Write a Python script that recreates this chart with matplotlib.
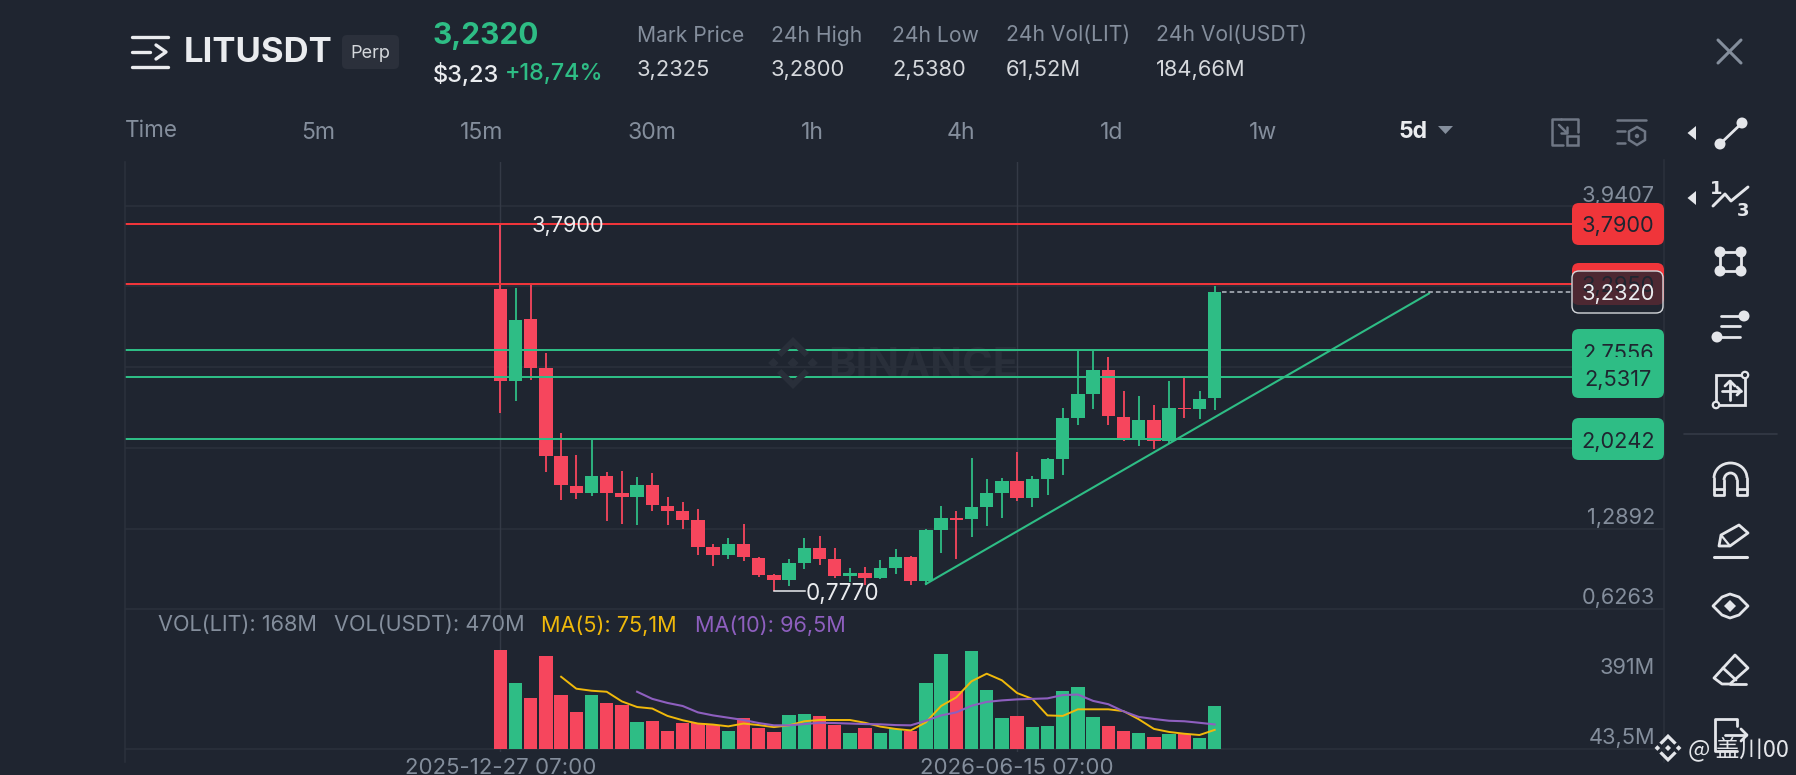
import matplotlib
matplotlib.use("Agg")
import matplotlib.pyplot as plt
from matplotlib.patches import FancyBboxPatch, Polygon, Circle, Rectangle, Arc

W, H = 1796, 775
BG = "#1F2530"
GRID = "#2B313C"
GREEN = "#2EBD85"
RED = "#F6465D"
LINE_RED = "#F0353A"
GREY = "#848E9C"
WHITE = "#EAECEF"
YELLOW = "#F0B90B"
PURPLE = "#8E5FBF"
FONT = "Inter"

opens = [3.2567,2.5041,3.0077,2.6053,1.8880,1.6419,1.5789,1.7213,1.5789,1.5488,1.6446,1.4777,1.4312,1.3572,1.1355,1.0699,
         1.1602,1.0507,0.9084,0.8701,1.0069,1.1301,1.0398,0.8974,0.9248,0.8810,0.9659,1.0534,0.8591,1.2752,1.3765,1.3683,
         1.4641,1.5845,1.6830,1.5434,1.6967,1.8637,2.2003,2.3946,2.5917,2.2085,2.0333,2.1784,2.0087,2.2797,2.2715,2.3591]
closes = [2.5041,3.0022,2.6081,1.8882,1.6446,1.5789,1.7213,1.5789,1.5488,1.6446,1.4832,1.4312,1.3572,1.1383,1.0699,1.1602,
          1.0534,0.9084,0.8701,1.0069,1.1301,1.0398,0.8974,0.9248,0.8837,0.9631,1.0534,0.8564,1.2751,1.3765,1.3628,1.4641,
          1.5818,1.6830,1.5434,1.6940,1.8609,2.1976,2.3919,2.5917,2.2140,2.0361,2.1784,2.0087,2.2797,2.2687,2.3536,3.2320]
highs = [3.7900,3.2622,3.2950,2.7285,2.0716,1.8910,2.0223,1.7541,1.7623,1.7131,1.7432,1.5488,1.5105,1.4503,1.1602,1.2094,
         1.3271,1.0589,0.9166,1.0398,1.2094,1.2286,1.1328,0.9631,0.9741,1.0288,1.1191,1.0644,1.2861,1.4750,1.4340,1.8691,
         1.6940,1.7077,1.9157,1.7186,1.8664,2.2824,2.7641,2.7559,2.6984,2.4193,2.3810,2.3043,2.5014,2.5260,2.4193,3.2814]
lows = [2.2413,2.3344,2.5095,1.7569,1.5242,1.5324,1.5571,1.3545,1.3244,1.3189,1.4339,1.3217,1.2834,1.0699,0.9823,1.0398,
        1.0261,0.8947,0.7770,0.8181,0.9604,0.9933,0.8810,0.8509,0.8263,0.8755,0.9166,0.8263,0.8263,1.0891,1.0426,1.2205,
        1.3135,1.3765,1.5188,1.4695,1.5681,1.7295,2.1401,2.2715,2.1401,2.0087,1.9704,1.9430,1.9841,2.2003,2.1894,2.2633]
volumes = [391,258,199,365,214,147,214,179,174,107,110,69,101,103,94,69,121,81,68,134,139,130,93,63,83,64,77,71,258,373,228,386,
           233,121,131,86,90,228,242,126,90,69,64,48,58,60,45,168]
ma5 = [284,237,229,225,187,165,159,130,113,100,96,89,100,94,86,93,109,114,114,114,103,88,79,73,105,169,203,266,296,270,220,197,
       132,130,156,156,156,149,117,79,67,60,55,75.1]
ma10 = [225,197,181,169,144,132,123,114,102,93,93,98,103,102,100,98,97,94,93,111,132,144,170,185,191,195,197,199,212,214,189,176,
        148,126,118,111,109,103,96.5]
MA5_START = 4
MA10_START = 9

grid_levels = [3.9407,3.2778,2.6149,1.9520,1.2892,0.6263]
axis_labels = ["3,9407","1,2892","0,6263","391M","43,5M"]
red_levels = [3.7900,3.2950]
green_levels = [2.7556,2.5317,2.0242]
last_price = 3.2320
trend_x = [28,61.1]
trend_y = [0.835,3.22]
date_ticks = [0,34]
date_labels = ["2025-12-27 07:00","2026-06-15 07:00"]
tabs = ["5m","15m","30m","1h","4h","1d","1w"]
tab_x = [318,482,652,812,961,1112,1263]
stat_names = ["Mark Price","24h High","24h Low","24h Vol(LIT)","24h Vol(USDT)"]
stat_values = ["3,2325","3,2800","2,5380","61,52M","184,66M"]
stat_x = [637,771,892,1006,1155.5]

C0, STEP = 500.3, 15.2
P_TOP, P_SCALE = 205.7, 0.00821
V_SCALE = 3.93
TXT_DY = 2.5
AXIS_SIZE = 15.7

fig = plt.figure(figsize=(W/100, H/100), dpi=100, facecolor=BG)
def pxaxes(l, r, t, b, **kw):
    a = fig.add_axes([l/W, 1-b/H, (r-l)/W, (b-t)/H], **kw)
    a.set_facecolor("none")
    for s in a.spines.values():
        s.set_visible(False)
    return a
def x_of(px):
    return (px-C0)/STEP
def p_of(py):
    return grid_levels[0]-(py-P_TOP)*P_SCALE

L, R = 125, 1664
ax = pxaxes(L, R, 162, 612)
ax.set_xlim(x_of(L), x_of(R)); ax.set_ylim(p_of(612), p_of(162))
ax.set_xticks([]); ax.set_yticks([])
for g in grid_levels:
    ax.axhline(g, color=GRID, lw=1.1, zorder=1)
for d in date_ticks:
    ax.axvline(d, color="#343A46", lw=1, zorder=1)

ax.text(x_of(828), p_of(366), "BINANCE", color="#292F3A", fontsize=30, family=FONT, fontweight="bold", va="center", ha="left", zorder=1)

xs = list(range(len(opens)))
cols = [GREEN if c >= o else RED for o, c in zip(opens, closes)]
ax.vlines(xs, lows, highs, colors=cols, lw=1.3, zorder=3)
ax.bar(xs, [abs(c-o) for o, c in zip(opens, closes)], bottom=[min(o, c) for o, c in zip(opens, closes)],
       width=0.875, color=cols, zorder=3)
for lv in red_levels:
    ax.axhline(lv, color=LINE_RED, lw=1.45, zorder=4)
for lv in green_levels:
    ax.axhline(lv, color=GREEN, lw=1.45, zorder=4)
ax.plot(trend_x, trend_y, color=GREEN, lw=1.5, zorder=4)
ax.plot([47.5, x_of(1572)], [last_price, last_price], color="#B7BDC6", lw=1.1, ls=(0, (3, 2)), zorder=4)
ax.text(x_of(532), p_of(224+TXT_DY), "3,7900", color=WHITE, fontsize=AXIS_SIZE, family=FONT, va="center", ha="left", zorder=5)
ax.plot([18, x_of(805)], [lows[18], lows[18]], color=WHITE, lw=1.1, zorder=5)
ax.text(x_of(806), p_of(591+TXT_DY), "0,7770", color=WHITE, fontsize=16.2, family=FONT, va="center", ha="left", zorder=5)

axv = pxaxes(L, R, 612, 752)
axv.set_xlim(x_of(L), x_of(R)); axv.set_ylim(-3*V_SCALE, (749-612)*V_SCALE)
axv.axhline(0, color=GRID, lw=1.1, zorder=1)
for d in date_ticks:
    axv.axvline(d, color="#343A46", lw=1, zorder=1)
axv.bar(xs, volumes, width=0.875, color=cols, zorder=3)
axv.plot(range(MA5_START, len(xs)), ma5, color=YELLOW, lw=1.4, zorder=4)
axv.plot(range(MA10_START, len(xs)), ma10, color=PURPLE, lw=1.5, zorder=5)
axv.set_yticks([])
axv.set_xticks(date_ticks, date_labels, color=GREY, fontsize=16, family=FONT)
axv.tick_params(axis="x", length=0, pad=4)

ui = pxaxes(0, W, 0, H)
ui.set_xlim(0, W); ui.set_ylim(H, 0); ui.axis("off")
ui.patch.set_alpha(0)

def T(x, y, s, c=GREY, size=15, ha="left", weight="normal", **kw):
    kw.setdefault("family", FONT)
    ui.text(x, y+TXT_DY, s, color=c, fontsize=size, ha=ha, va="center", fontweight=weight, **kw)
def box(x0, y0, x1, y1, fc, ec="none", lw=0, r=7, alpha=None, z=6):
    ui.add_patch(FancyBboxPatch((x0, y0), x1-x0, y1-y0, boxstyle=f"round,pad=0,rounding_size={r}",
                                fc=fc, ec=ec, lw=lw, alpha=alpha, zorder=z))
def ln(xs_, ys_, c=WHITE, lw=2, z=6, cap="round"):
    ui.plot(xs_, ys_, color=c, lw=lw, zorder=z, solid_capstyle=cap, solid_joinstyle="round")
def dot(x, y, r=5.5, c="#E4E6EA"):
    ui.add_patch(Circle((x, y), r, fc=c, ec="none", zorder=7))

ui.plot([L, L], [162, 762], color=GRID, lw=1.1, zorder=1)
ui.plot([R, R], [160, 762], color=GRID, lw=1.1, zorder=1)

# header
for y_ in (37, 52, 67):
    ln([132, 168] if y_ != 52 else [132, 150], [y_, y_], lw=2.4)
ln([156, 166, 156], [45, 52, 59], lw=2.4)
T(184, 50.5, "LITUSDT", WHITE, 25, weight="bold")
box(342, 35, 399, 69, "#2B303B", r=5)
T(370.5, 50.5, "Perp", "#D5D8DC", 13, ha="center", zorder=7)
T(433, 33, "3,2320", GREEN, 21.5, weight="bold")
T(433, 72, "$3,23", WHITE, 17, weight="medium")
T(505, 72, "+18,74%", GREEN, 16.8, weight="medium")
for n, v, x in zip(stat_names, stat_values, stat_x):
    T(x, 33, n, GREY, 15.2)
    T(x, 67, v, "#D5D8DC", 15.8)
ln([1718, 1741], [40, 63], c="#848E9C", lw=2.2)
ln([1718, 1741], [63, 40], c="#848E9C", lw=2.2)

# tab row
T(125, 128.5, "Time", GREY, 16.2)
for t, x in zip(tabs, tab_x):
    T(x, 130.5, t, GREY, 16.6, ha="center")
T(1413, 129.5, "5d", WHITE, 16.5, ha="center", weight="bold")
ui.add_patch(Polygon([[1438, 126], [1453, 126], [1445.5, 134]], fc=GREY, ec="none"))
ICON_GREY = "#6F7785"
ln([1563, 1552, 1552, 1561], [145, 145, 119, 119], c=ICON_GREY, lw=1.8)
ln([1561, 1578, 1578], [119, 119, 132], c=ICON_GREY, lw=1.8)
ui.add_patch(Rectangle((1567, 136), 11, 9, fc="none", ec=ICON_GREY, lw=1.8, zorder=3))
ln([1559, 1567], [125, 133], c=ICON_GREY, lw=1.8)
ln([1567, 1567, 1561], [127, 133, 133], c=ICON_GREY, lw=1.8)
ln([1617, 1646], [120, 120], c=ICON_GREY, lw=1.8)
ln([1617, 1625], [131, 131], c=ICON_GREY, lw=1.8)
ln([1617, 1625], [143, 143], c=ICON_GREY, lw=1.8)
ui.add_patch(Polygon([[1637, 127], [1645, 131.5], [1645, 140], [1637, 145], [1629, 140], [1629, 131.5]], fc="none", ec=ICON_GREY, lw=1.8))
dot(1637, 136, 2.2, ICON_GREY)

# axis labels
T(1655, 194, axis_labels[0], GREY, AXIS_SIZE, ha="right")
T(1655, 516, axis_labels[1], GREY, AXIS_SIZE, ha="right")
T(1655, 595, axis_labels[2], GREY, AXIS_SIZE, ha="right")
T(1655, 665, axis_labels[3], GREY, AXIS_SIZE, ha="right")
T(1655, 735, axis_labels[4], GREY, AXIS_SIZE, ha="right")

# price tags
DARK = "#1F2530"
box(1572, 203, 1664, 245, LINE_RED)
T(1618, 224, "3,7900", DARK, AXIS_SIZE, ha="center", zorder=7)
box(1572, 263, 1664, 305, LINE_RED)
T(1618, 284, "3,2950", DARK, AXIS_SIZE, ha="center", zorder=7)
box(1572, 271, 1663, 313, BG, ec="none", alpha=0.78, z=8)
ui.add_patch(FancyBboxPatch((1572, 271), 91, 42, boxstyle="round,pad=0,rounding_size=7", fc="none", ec="#D5D8DC", lw=1, zorder=9))
T(1618, 292, "3,2320", WHITE, AXIS_SIZE, ha="center", zorder=10)
box(1572, 329, 1664, 371, GREEN)
T(1618, 352, "2,7556", DARK, AXIS_SIZE, ha="center", zorder=7)
box(1572, 357, 1664, 398, GREEN, z=8)
T(1618, 378, "2,5317", DARK, AXIS_SIZE, ha="center", zorder=9)
box(1572, 418, 1664, 460, GREEN)
T(1618, 439, "2,0242", DARK, AXIS_SIZE, ha="center", zorder=7)

# volume legend
T(158, 623, "VOL(LIT): 168M", GREY, 15.6)
T(334.5, 623, "VOL(USDT): 470M", GREY, 15.6)
T(540.6, 623, "MA(5): 75,1M", YELLOW, 15.6)
T(695, 623, "MA(10): 96,5M", PURPLE, 15.6)

# logos
def logo(cx, cy, s, c, z=2):
    u = s/12
    def d(dx, dy, r):
        ui.add_patch(Polygon([[cx+dx*u, cy+(dy-r)*u], [cx+(dx+r)*u, cy+dy*u], [cx+dx*u, cy+(dy+r)*u], [cx+(dx-r)*u, cy+dy*u]],
                             fc=c, ec="none", zorder=z))
    d(0, 0, 2.8); d(-9.8, 0, 2.6); d(9.8, 0, 2.6)
    for sgn in (-1, 1):
        ui.add_patch(Polygon([[cx-8*u, cy+sgn*5*u], [cx, cy+sgn*13*u], [cx+8*u, cy+sgn*5*u], [cx+5.8*u, cy+sgn*3*u],
                              [cx, cy+sgn*8.8*u], [cx-5.8*u, cy+sgn*3*u]], fc=c, ec="none", zorder=z))
logo(793, 363, 24, "#292F3A")
logo(1668, 748, 13, "#E4E6EA", z=12)
T(1688, 746, "@ 盖川00", "#E4E6EA", 17, family=["Noto Sans CJK SC", "DejaVu Sans"], zorder=12)

# right toolbar
IC = "#E4E6EA"
for y_ in (133, 198):
    ui.add_patch(Polygon([[1687.5, y_], [1696, y_-7], [1696, y_+7]], fc=IC, ec="none"))
dot(1720, 144); dot(1742, 123); ln([1720, 1742], [144, 123], c=IC)
ui.text(1716, 189, "1", color=IC, fontsize=13, ha="center", va="center", fontweight="bold", family="DejaVu Sans", zorder=7)
ln([1713, 1725, 1731, 1748], [206, 194, 201, 187], c=IC, lw=2.1)
ui.text(1743, 211, "3", color=IC, fontsize=13, ha="center", va="center", fontweight="bold", family="DejaVu Sans", zorder=7)
ui.add_patch(Rectangle((1720, 252), 21, 19, fc="none", ec=IC, lw=2, zorder=6))
for a_ in (1720, 1741):
    for b_ in (252, 271):
        dot(a_, b_)
dot(1744, 316); ln([1721, 1740], [316, 316], c=IC, lw=2)
ln([1721, 1740], [326, 326], c=IC, lw=2)
dot(1717, 337); ln([1720, 1740], [337, 337], c=IC, lw=2)
ui.add_patch(Rectangle((1716, 375), 29, 30, fc="none", ec=IC, lw=2, zorder=6))
ln([1730, 1730], [381, 400], c=IC, lw=2); ln([1722, 1741], [391, 391], c=IC, lw=2)
ln([1725, 1730, 1735], [386, 381, 386], c=IC, lw=2); ln([1737, 1741, 1737], [387, 391, 395], c=IC, lw=2)
for (a_, b_) in ((1745, 375), (1716, 405)):
    ui.add_patch(Circle((a_, b_), 3.2, fc=BG, ec=IC, lw=1.6, zorder=7))
ln([1684, 1777], [434, 434], c="#343A46", lw=1.2)
# magnet
ui.add_patch(Arc((1730.5, 478), 33, 30, theta1=180, theta2=360, ec=IC, lw=2, zorder=6))
ui.add_patch(Arc((1730.5, 480), 13, 14, theta1=180, theta2=360, ec=IC, lw=2, zorder=6))
ln([1714, 1714, 1724, 1724], [478, 495, 495, 480], c=IC); ln([1737, 1737, 1747, 1747], [480, 495, 495, 478], c=IC)
ln([1714, 1724], [489, 489], c=IC); ln([1737, 1747], [489, 489], c=IC)
# pencil
ui.add_patch(Polygon([[1719, 546], [1721, 535], [1739, 525], [1748, 533], [1730, 546]], fc="none", ec=IC, lw=2, joinstyle="round", zorder=6))
ln([1721, 1730], [535, 546], c=IC, lw=1.6)
ln([1714, 1747], [557, 557], c=IC, lw=2.2)
# eye
ui.add_patch(Polygon([[1713, 606], [1722, 597], [1730, 594], [1739, 597], [1748, 606], [1739, 615], [1730, 618], [1722, 615]], fc="none", ec=IC, lw=2, joinstyle="round", zorder=6))
ui.add_patch(Polygon([[1730, 600], [1736, 606], [1730, 612], [1724, 606]], fc=IC, ec="none", zorder=6))
# eraser
ui.add_patch(Polygon([[1714, 678], [1735, 655], [1748, 668], [1730, 684], [1722, 684]], fc="none", ec=IC, lw=2, joinstyle="round", zorder=6))
ln([1723, 1736], [668, 680], c=IC); ln([1730, 1746], [684, 684], c=IC)
# export
ln([1737, 1737, 1715, 1715, 1737], [726, 719, 719, 751, 751], c=IC)
ln([1725, 1746], [735, 735], c=IC); ln([1741, 1747, 1741], [729, 735, 741], c=IC)

fig.savefig("out.png", dpi=100, facecolor=BG)
